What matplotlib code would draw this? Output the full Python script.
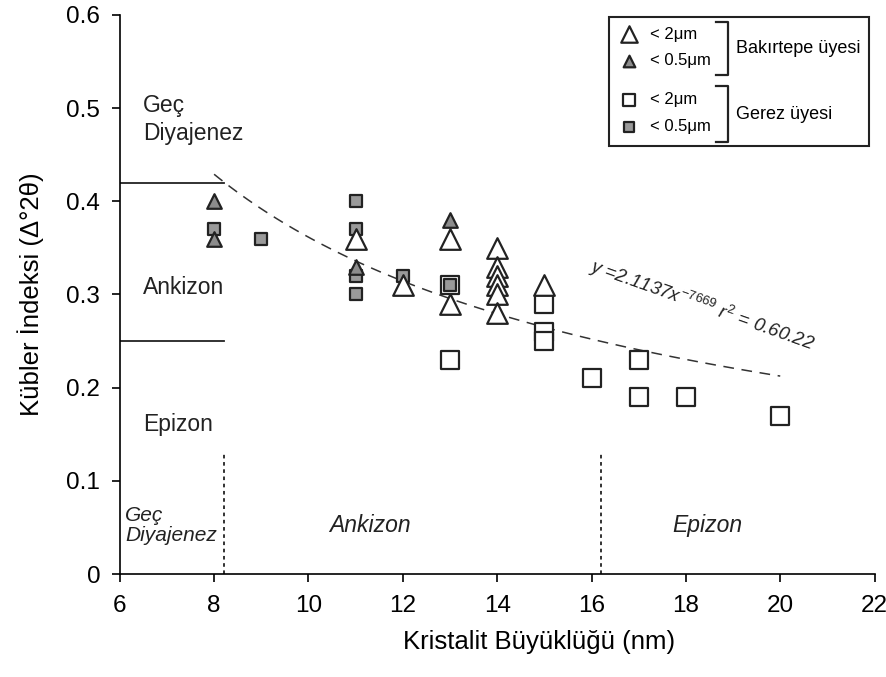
import matplotlib.pyplot as plt
import numpy as np
from matplotlib.patches import Rectangle

plt.rcParams["font.family"] = ["Liberation Sans", "DejaVu Sans"]
plt.rcParams["mathtext.fontset"] = "custom"
plt.rcParams["mathtext.rm"] = "Liberation Sans"
plt.rcParams["mathtext.it"] = "Liberation Sans:italic"

# Bakirtepe uyesi
bak_2um_x = [11, 12, 13, 13, 14, 14, 14, 14, 14, 14, 15]
bak_2um_y = [0.36, 0.31, 0.36, 0.29, 0.35, 0.33, 0.32, 0.31, 0.30, 0.28, 0.31]
bak_05um_x = [8, 8, 11, 13]
bak_05um_y = [0.40, 0.36, 0.33, 0.38]

# Gerez uyesi
ger_2um_x = [13, 13, 15, 15, 15, 16, 17, 17, 18, 20]
ger_2um_y = [0.31, 0.23, 0.29, 0.26, 0.25, 0.21, 0.23, 0.19, 0.19, 0.17]
ger_05um_x = [8, 9, 11, 11, 11, 11, 12, 13]
ger_05um_y = [0.37, 0.36, 0.40, 0.37, 0.32, 0.30, 0.32, 0.31]

# power fit y = a * x^b
fit_a = 2.1137
fit_b = -0.7669
fit_x0, fit_x1 = 8.0, 20.0

# zone limits
kubler_limits = [0.42, 0.25]
kristalit_limits = [8.2, 16.2]

fig = plt.figure(figsize=(8.87, 6.77), dpi=100)
ax = fig.add_axes([0.135, 0.152, 0.851, 0.826])

ax.set_xlim(6, 22)
ax.set_ylim(0, 0.6)
ax.set_xticks(np.arange(6, 23, 2))
ax.set_yticks(np.arange(0, 0.61, 0.1))
ax.set_yticklabels(["0", "0.1", "0.2", "0.3", "0.4", "0.5", "0.6"])
ax.spines["top"].set_visible(False)
ax.spines["right"].set_visible(False)
ax.spines["left"].set_linewidth(1.2)
ax.spines["bottom"].set_linewidth(1.2)
ax.tick_params(direction="out", length=6, width=1.2, labelsize=17.5)
ax.tick_params(axis="x", pad=9)
ax.tick_params(axis="y", pad=8)

ax.set_xlabel("Kristalit Büyüklüğü (nm)", fontsize=18.5)
ax.xaxis.set_label_coords(0.556, -0.1)
ax.set_ylabel("Kübler İndeksi (Δ°2θ)", fontsize=18.5, labelpad=16)

# zone lines
for lim in kubler_limits:
    ax.plot([6, kristalit_limits[0]], [lim, lim], color="#222222", lw=1.3)
for lim in kristalit_limits:
    ax.plot([lim, lim], [0, 0.13], color="#222222", lw=1.3, ls=(0, (2, 2)))

# fit curve
xf = np.linspace(fit_x0, fit_x1, 100)
ax.plot(xf, fit_a * xf ** fit_b, color="#333333", lw=1.1, ls=(0, (7, 5)))

# points
ax.scatter(ger_2um_x, ger_2um_y, marker="s", s=150, facecolor="white",
           edgecolor="#222222", linewidth=1.6, zorder=3)
ax.scatter(ger_05um_x, ger_05um_y, marker="s", s=85, facecolor="#9a9a9a",
           edgecolor="#222222", linewidth=1.6, zorder=4)
ax.scatter(bak_2um_x, bak_2um_y, marker="^", s=220, facecolor="white",
           edgecolor="#222222", linewidth=1.6, zorder=5)
ax.scatter(bak_05um_x, bak_05um_y, marker="^", s=110, facecolor="#8c8c8c",
           edgecolor="#222222", linewidth=1.6, zorder=6)

# zone labels on y side
ax.text(6.5, 0.488, "Geç\nDiyajenez", fontsize=16.5, va="center", ha="left",
        linespacing=1.25, color="#222222")
ax.text(6.5, 0.307, "Ankizon", fontsize=16.5, va="center", ha="left", color="#222222")
ax.text(6.5, 0.16, "Epizon", fontsize=16.5, va="center", ha="left", color="#222222")

# zone labels on x side
ax.text(6.12, 0.052, "Geç\nDiyajenez", fontsize=15, style="italic",
        va="center", ha="left", linespacing=1.05, color="#222222")
ax.text(11.3, 0.052, "Ankizon", fontsize=16.5, style="italic", va="center",
        ha="center", color="#222222")
ax.text(18.45, 0.052, "Epizon", fontsize=16.5, style="italic", va="center",
        ha="center", color="#222222")

# equation
ax.text(18.35, 0.288, r"$y$ =2.1137$x^{\mathit{-7669}}$ $r^2$ = 0.60.22",
        fontsize=13.5, style="italic", rotation=-19.5, rotation_mode="anchor",
        ha="center", va="center", color="#222222")

# legend box (axes coordinates)
tr = ax.transAxes
ax.add_patch(Rectangle((0.648, 0.765), 0.345, 0.232, transform=tr,
                       facecolor="white", edgecolor="#222222", lw=1.5,
                       zorder=7, clip_on=False))
leg_y = [0.965, 0.918, 0.848, 0.8]
leg_marker = ["^", "^", "s", "s"]
leg_size = [140, 70, 85, 55]
leg_face = ["white", "#8c8c8c", "white", "#9a9a9a"]
leg_text = ["< 2μm", "< 0.5μm", "< 2μm", "< 0.5μm"]
for yy, mk, sz, fc, tx in zip(leg_y, leg_marker, leg_size, leg_face, leg_text):
    ax.scatter([0.675], [yy], transform=tr, marker=mk, s=sz, facecolor=fc,
               edgecolor="#222222", linewidth=1.6, zorder=8, clip_on=False)
    ax.text(0.702, yy, tx, transform=tr, fontsize=12, va="center",
            ha="left", zorder=8)

for y0, y1, label in [(0.988, 0.893, "Bakırtepe üyesi"),
                      (0.872, 0.773, "Gerez üyesi")]:
    ax.plot([0.79, 0.806, 0.806, 0.79], [y0, y0, y1, y1], transform=tr,
            color="#222222", lw=1.6, zorder=8, clip_on=False)
    ax.text(0.816, (y0 + y1) / 2, label, transform=tr, fontsize=13,
            va="center", ha="left", zorder=8)

fig.savefig("out.png", dpi=100)
